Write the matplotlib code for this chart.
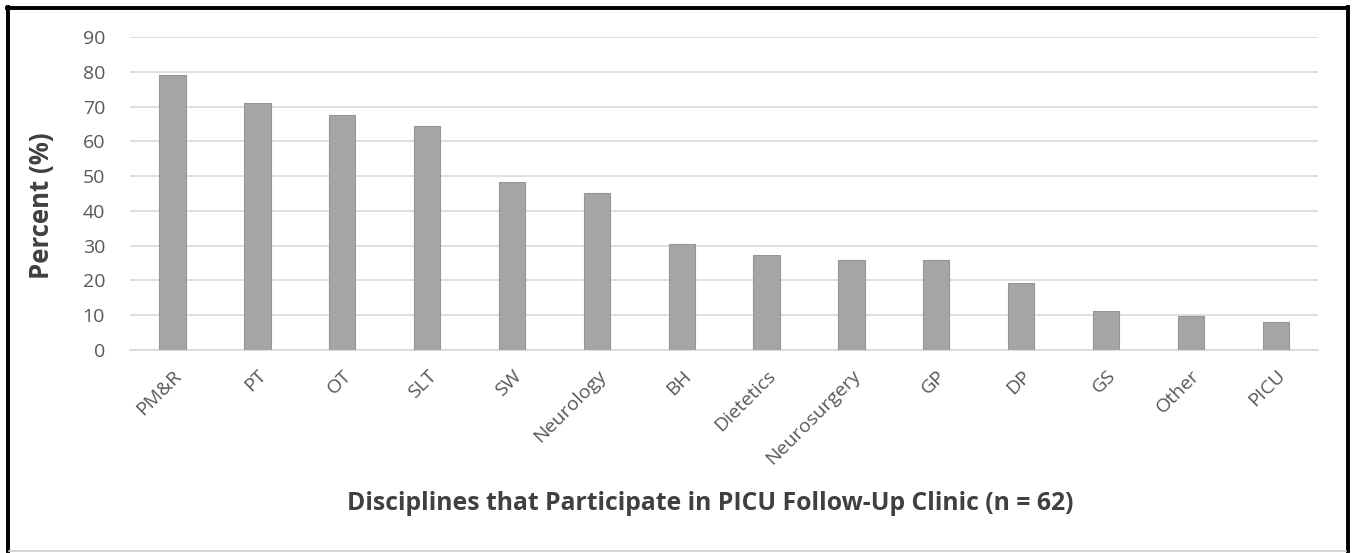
import numpy as np
import matplotlib.pyplot as plt
from matplotlib.lines import Line2D

disciplines = ["PM&R", "PT", "OT", "SLT", "SW", "Neurology", "BH", "Dietetics",
               "Neurosurgery", "GP", "DP", "GS", "Other", "PICU"]
percent = [79.0, 71.0, 67.7, 64.5, 48.4, 45.2, 30.6, 27.4, 25.8, 25.8, 19.4, 11.3, 9.7, 8.1]
y_ticks = [0, 10, 20, 30, 40, 50, 60, 70, 80, 90]

plt.rcParams["font.family"] = ["Open Sans", "DejaVu Sans"]

fig = plt.figure(figsize=(13.52, 5.53), dpi=100)
ax = fig.add_axes([0.0962, 0.367, 0.8788, 0.566])

x = np.arange(len(disciplines))
ax.bar(x, percent, width=0.31, color="#a5a5a5", edgecolor="#959595", linewidth=0.8, zorder=3)

ax.set_xlim(-0.5, len(disciplines) - 0.5)
ax.set_ylim(0, 90)
ax.set_yticks(y_ticks)
ax.yaxis.grid(True, color="#d9d9d9", linewidth=1.2, zorder=0)
for side in ["top", "right", "left"]:
    ax.spines[side].set_visible(False)
ax.spines["bottom"].set_color("#d9d9d9")
ax.spines["bottom"].set_linewidth(1.2)
ax.tick_params(axis="both", length=0, colors="#595959", labelsize=14)
ax.tick_params(axis="y", pad=18)

ax.set_xticks(x)
ax.set_xticklabels(disciplines, rotation=45, ha="right", rotation_mode="anchor")
ax.tick_params(axis="x", pad=12)

ax.set_ylabel("Percent (%)", fontsize=18.5, fontweight="bold", color="#404040")
ax.yaxis.set_label_coords(-0.0632, 0.46)
fig.text(0.525, 0.09, "Disciplines that Participate in PICU Follow-Up Clinic (n = 62)",
         ha="center", va="center", fontsize=17.8, fontweight="bold", color="#404040")

# outer frame: heavy black on three sides, faint grey along the bottom
w, h = 1352, 553
fig.add_artist(Line2D([7 / w, 1348 / w], [1 - 7.5 / h, 1 - 7.5 / h], color="black", lw=2.8))
fig.add_artist(Line2D([7.5 / w, 7.5 / w], [1 - 7 / h, 2 / h], color="black", lw=2.8))
fig.add_artist(Line2D([1347.5 / w, 1347.5 / w], [1 - 7 / h, 2 / h], color="black", lw=2.8))
fig.add_artist(Line2D([9 / w, 1346 / w], [2 / h, 2 / h], color="#cfcfcf", lw=1.2))

fig.savefig("out.png", dpi=100, facecolor="white")
